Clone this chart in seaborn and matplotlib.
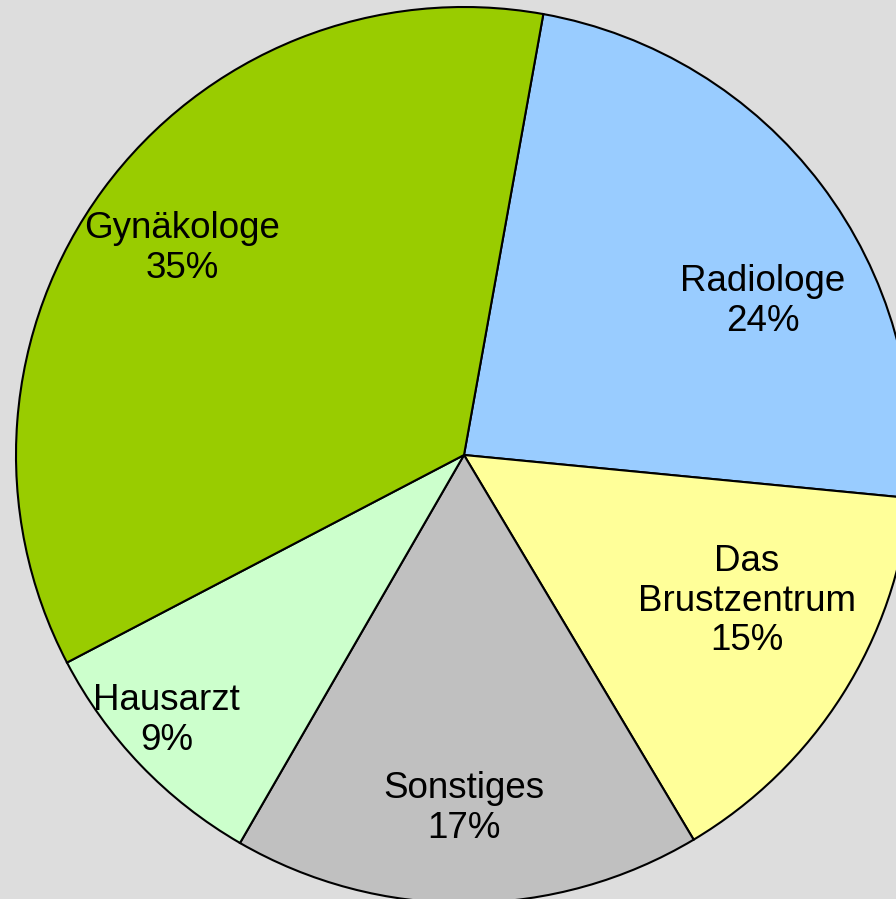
import numpy as np
import matplotlib.pyplot as plt
import seaborn as sns

sns.set_theme(style="white")
plt.rcParams["font.family"] = ["Liberation Sans", "DejaVu Sans"]

# Anteile (%) im Uhrzeigersinn ab oben
labels = ["Radiologe", "Das\nBrustzentrum", "Sonstiges", "Hausarzt", "Gynäkologe"]
values = [23.7, 14.9, 16.9, 9.0, 35.5]
shown = ["24%", "15%", "17%", "9%", "35%"]
colors = ["#99CCFF", "#FFFF99", "#C0C0C0", "#CCFFCC", "#99CC00"]

# label placement inside the wedges (radius fraction, angle shift in degrees)
label_r = [0.75, 0.71, 0.79, 0.89, 0.78]
label_shift = [-10, 5, -0.5, -2, 0]

fig = plt.figure(figsize=(8.96, 8.99), dpi=100)
fig.patch.set_facecolor("#DDDDDD")
ax = fig.add_axes([16 / 896, -4 / 899, 896 / 896, 896 / 899])
ax.set_facecolor("#DDDDDD")

wedges, _ = ax.pie(values, colors=colors, startangle=79.8, counterclock=False,
                   wedgeprops=dict(edgecolor="black", linewidth=1.5))

for w, lab, pct, r, sh in zip(wedges, labels, shown, label_r, label_shift):
    mid = np.deg2rad((w.theta1 + w.theta2) / 2 + sh)
    ax.text(r * np.cos(mid), r * np.sin(mid), lab + "\n" + pct,
            ha="center", va="center", fontsize=26.5, linespacing=1.18, color="black")

ax.set_xlim(-1, 1)
ax.set_ylim(-1, 1)
ax.set_aspect("equal")
ax.axis("off")

fig.savefig("out.png", dpi=100, facecolor=fig.get_facecolor())
